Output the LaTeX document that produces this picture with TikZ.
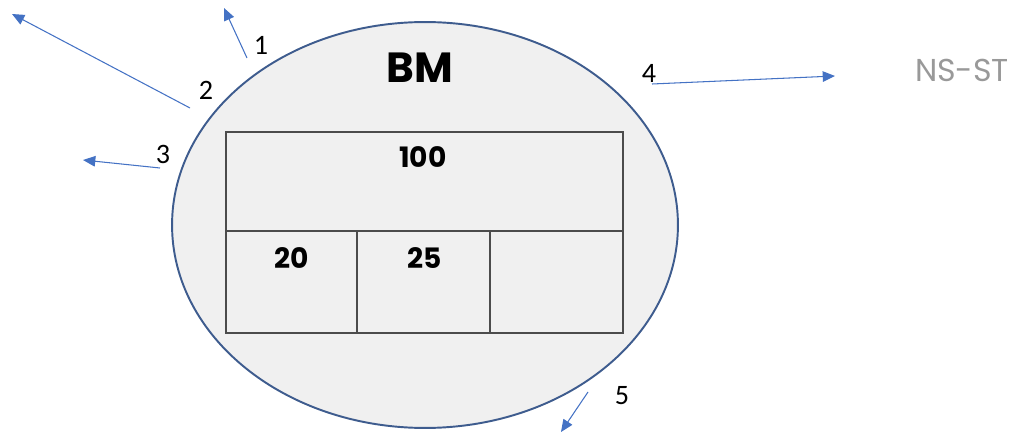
\documentclass[tikz,border=0pt]{standalone}
\usepackage{fontspec}
\setmainfont{Carlito}
\newfontfamily\boxfont{Poppins}
\usetikzlibrary{arrows.meta,shapes.geometric,positioning}

\begin{document}
\begin{tikzpicture}[x=0.02cm,y=-0.02cm,
cell/.style = {draw=black!70, line width=0.6pt},
out arrow/.style = {draw={rgb,255:red,68;green,114;blue,196}, line width=0.6pt, -{Triangle[length=7pt,width=6pt]}},
num/.style = {font=\fontsize{16}{16}\selectfont},
box num/.style = {font=\boxfont\bfseries\fontsize{16}{16}\selectfont}]
\useasboundingbox (0,0) rectangle (1028,432);

% the ellipse and its title
\node (bm) [ellipse, draw={rgb,255:red,62;green,92;blue,142}, line width=1.1pt,
  fill={rgb,255:red,240;green,240;blue,240}, minimum width=10.12cm, minimum height=8.12cm] at (425,225) {};
\node (title) at (420,68) {\boxfont\bfseries\fontsize{24}{24}\selectfont BM};

% boxes inside
\draw[cell] (226,132) rectangle (623,333);
\draw[cell] (226,231) -- (623,231);
\draw[cell] (357,231) -- (357,333);
\draw[cell] (490,231) -- (490,333);
\node[box num] (c100) at (423,157) {100};
\node[box num] (c20) at (292,258) {20};
\node[box num] (c25) at (425,258) {25};

% arrows
\coordinate (s1) at (247,58);  \coordinate (e1) at (224,8);
\coordinate (s2) at (190,108); \coordinate (e2) at (12,14);
\coordinate (s3) at (160,168); \coordinate (e3) at (83,160);
\coordinate (s4) at (652,84);  \coordinate (e4) at (835,76);
\coordinate (s5) at (588,392); \coordinate (e5) at (561,432);
\foreach \i in {1,...,5}
  \draw[out arrow] (s\i) -- (e\i);

\node[num] (n1) at (261,45) {1};
\node[num] (n2) at (206,90) {2};
\node[num] (n3) at (163,154) {3};
\node[num] (n4) at (649,73) {4};
\node[num] (n5) at (622,396) {5};

\node (nsst) at (962,70) {\boxfont\color{black!40}\fontsize{18}{18}\selectfont NS-ST};
\end{tikzpicture}
\end{document}
